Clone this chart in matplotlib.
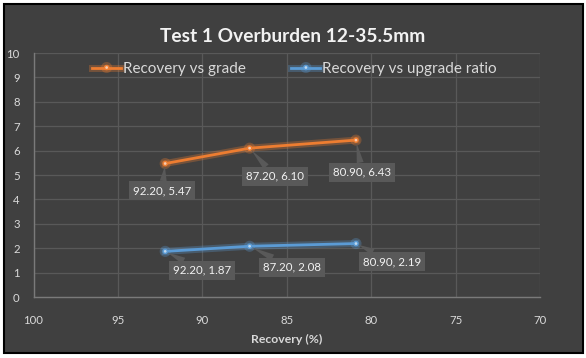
import matplotlib
matplotlib.use("Agg")
import matplotlib.pyplot as plt
import matplotlib.patheffects as pe
from matplotlib.patches import Rectangle

recovery = [92.20, 87.20, 80.90]
grade = [5.47, 6.10, 6.43]
upgrade_ratio = [1.87, 2.08, 2.19]

x_ticks = [100, 95, 90, 85, 80, 75, 70]
y_ticks = list(range(0, 11))

title = "Test 1 Overburden 12-35.5mm"
x_label = "Recovery (%)"
series_names = ["Recovery vs grade", "Recovery vs upgrade ratio"]

BG = "#404040"
GRID = "#595959"
TXT = "#d9d9d9"
ORANGE = "#ed7d31"
BLUE = "#5b9bd5"
BOX = "#595959"

plt.rcParams["font.family"] = ["Lato", "DejaVu Sans"]

fig = plt.figure(figsize=(5.86, 3.58), dpi=100)
fig.patch.set_facecolor("white")
# dark chart area with black frame
fig.patches.append(Rectangle((4 / 586, 5 / 358), 579 / 586, 349 / 358, transform=fig.transFigure,
                             facecolor=BG, edgecolor="black", linewidth=1.5, zorder=-5))

ax = fig.add_axes([33.5 / 586, 61 / 358, 506.5 / 586, 244 / 358])
ax.set_facecolor("none")
ax.set_xlim(100, 70)
ax.set_ylim(0, 10)
ax.set_xticks(x_ticks)
ax.set_yticks(y_ticks)
ax.tick_params(length=0, labelsize=8.2, labelcolor=TXT)
ax.tick_params(axis="x", pad=13)
ax.tick_params(axis="y", pad=10)
ax.grid(True, color=GRID, linewidth=0.9)
ax.set_axisbelow(True)
for side, sp in ax.spines.items():
    if side in ("left", "bottom"):
        sp.set_color("#7a7a7a")
        sp.set_linewidth(1.0)
    else:
        sp.set_visible(False)

glow = lambda c: [pe.Stroke(linewidth=5, foreground=c, alpha=0.3), pe.Normal()]
ax.plot(recovery, grade, color=ORANGE, lw=2, marker="o", ms=3, mfc="#f8cbad", mec=ORANGE,
        label=series_names[0], path_effects=glow(ORANGE), zorder=3)
ax.plot(recovery, upgrade_ratio, color=BLUE, lw=2, marker="o", ms=3, mfc="#bdd7ee", mec=BLUE,
        label=series_names[1], path_effects=glow(BLUE), zorder=3)

grade_offsets = [(-3, -27), (25, -28), (6, -32)]
ratio_offsets = [(37, -19), (42, -21), (36, -18)]


def add_labels(xs, ys, offsets):
    for x, y, off in zip(xs, ys, offsets):
        ax.annotate(f"{x:.2f}, {y:.2f}", (x, y), xytext=off, textcoords="offset pixels",
                    ha="center", va="center", fontsize=8.3, color="#f2f2f2",
                    bbox=dict(boxstyle="square,pad=0.35", fc=BOX, ec="none"),
                    arrowprops=dict(arrowstyle="wedge,tail_width=0.6,shrink_factor=0.5",
                                    fc=BOX, ec="none", shrinkA=0, shrinkB=2),
                    zorder=4)


add_labels(recovery, grade, grade_offsets)
add_labels(recovery, upgrade_ratio, ratio_offsets)

leg = ax.legend(loc="upper center", bbox_to_anchor=(0.515, 1.02), ncol=2, frameon=False,
                fontsize=11, labelcolor=TXT, handlelength=1.9, handletextpad=0.1, columnspacing=3.0)

ax.set_xlabel(x_label, fontsize=8.8, fontweight="bold", color=TXT, labelpad=6)
fig.text(0.5, 322 / 358, title, ha="center", va="center", fontsize=13.8, fontweight="bold", color="#f2f2f2")

fig.savefig("out.png", dpi=100)
